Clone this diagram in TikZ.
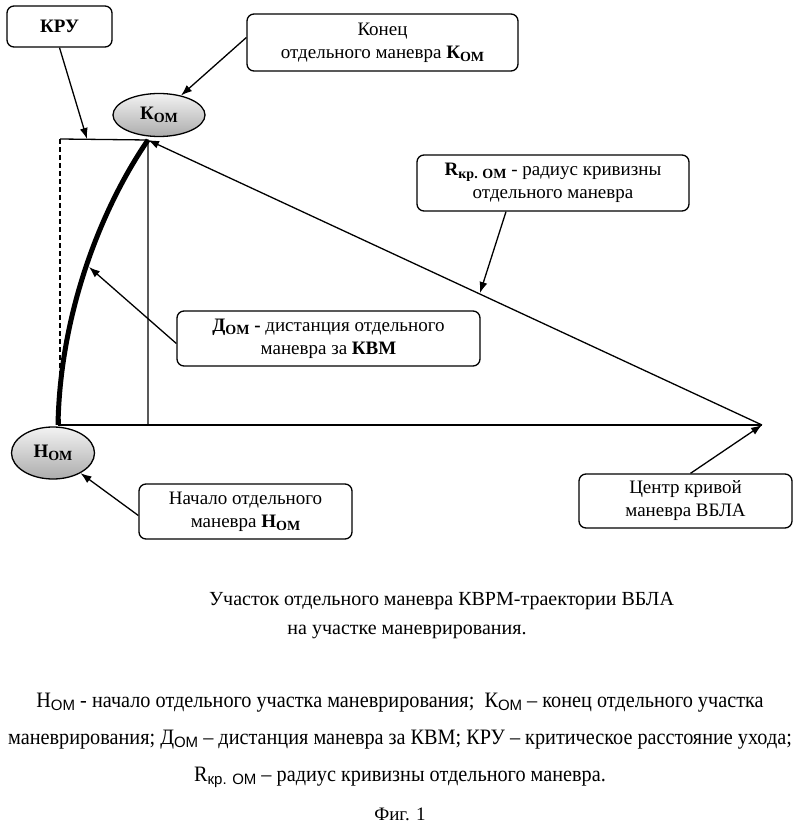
\documentclass[tikz,border=0pt]{standalone}
\usepackage{fontspec}
\setmainfont{Liberation Serif}
\setsansfont{Liberation Sans}
\newfontfamily\legendfont[FakeStretch=0.92]{Liberation Serif}
\usetikzlibrary{
    arrows.meta,
    shapes.geometric
}
\newcommand{\lo}[1]{\raisebox{-0.35ex}{\fontsize{14}{14}\selectfont#1}}
\newcommand{\losf}[1]{\raisebox{-0.3ex}{\fontsize{15}{15}\selectfont\sffamily#1}}
\tikzset{
    callout/.style={draw, line width=1.3, rounded corners=7, align=center,
        inner sep=0, font=\fontsize{19}{23}\selectfont},
    point/.style={draw, line width=1.3, ellipse, inner sep=0,
        top color=gray!10, bottom color=gray!65,
        font=\fontsize{19}{19}\selectfont\bfseries},
    pointer/.style={line width=1.3, -{Latex[length=11,width=8]}},
    guide/.style={line width=1.3},
    caption/.style={anchor=base, inner sep=0, font=\fontsize{20}{20}\selectfont},
    legend/.style={anchor=base, inner sep=0, font=\fontsize{22}{22}\legendfont}
}

\begin{document}
\begin{tikzpicture}[x=1pt, y=-1pt]
    \useasboundingbox (0,0) rectangle (800,826);
    \fill[white] (0,0) rectangle (800,826);

    % points of the manoeuvre
    \node[point, minimum width=92, minimum height=43] (kom) at (159,115) {К\lo{ОМ}};
    \node[point, minimum width=83, minimum height=52] (hom) at (53,453) {Н\lo{ОМ}};

    \coordinate (c0) at (58,425);
    \coordinate (c1) at (148,140);
    \coordinate (ctr) at (762,425);
    \coordinate (d0) at (60,139);
    \coordinate (d1) at (60,425);
    \coordinate (v0) at (148,425);

    % frame of the manoeuvre
    \draw[guide, dashed, dash pattern=on 5 off 3] (d0) -- (d1);
    \draw[guide] (d0) -- (c1) -- (v0);
    \draw[guide] (c0) -- (ctr);
    \draw[line width=5] (c0) .. controls (60,315) and (100,210) .. (c1);
    \draw[pointer] (ctr) -- (c1);

    % callouts
    \node[callout, minimum width=105, minimum height=41] (kru) at (59.5,26.5) {\bfseries КРУ};
    \node[callout, minimum width=271, minimum height=57] (konets) at (382.5,42.5)
        {Конец\\отдельного маневра \textbf{К\lo{ОМ}}};
    \node[callout, minimum width=272, minimum height=56] (rkr) at (553,183)
        {\textbf{R\lo{кр. ОМ}} - радиус кривизны\\отдельного маневра};
    \node[callout, minimum width=303, minimum height=55] (dom) at (328.5,338.5)
        {\textbf{Д\lo{ОМ} -} дистанция отдельного\\маневра за \textbf{КВМ}};
    \node[callout, minimum width=213, minimum height=55] (nach) at (245.5,511.5)
        {Начало отдельного\\маневра \textbf{Н\lo{ОМ}}};
    \node[callout, minimum width=213, minimum height=54] (cen) at (685.5,501)
        {Центр кривой\\маневра ВБЛА};

    \coordinate (kruhit) at (87,139);
    \coordinate (rhit) at (480,293);
    \coordinate (dhit) at (89,267);

    \draw[pointer] (kru.south) -- (kruhit);
    \draw[pointer] ([yshift=5]konets.west) -- (kom);
    \draw[pointer] ([xshift=-47]rkr.south) -- (rhit);
    \draw[pointer] ([yshift=-5]dom.west) -- (dhit);
    \draw[pointer] ([yshift=-4]nach.west) -- (hom);
    \draw[pointer] ([xshift=5]cen.north) -- (ctr);

    % caption and legend
    \node[caption] (cap1) at (441.5,605) {Участок отдельного маневра КВРМ-траектории ВБЛА};
    \node[caption] (cap2) at (407,634) {на участке маневрирования.};
    \node[legend] (leg1) at (400,707)
        {Н\losf{ОМ} - начало отдельного участка маневрирования;\ \ К\losf{ОМ} – конец отдельного участка};
    \node[legend] (leg2) at (400,744)
        {маневрирования; Д\losf{ОМ} – дистанция маневра за КВМ; КРУ – критическое расстояние ухода;};
    \node[legend] (leg3) at (400,781)
        {R\losf{кр. ОМ} – радиус кривизны отдельного маневра.};
    \node[caption, font=\fontsize{19}{19}\selectfont] (fig) at (400,820) {Фиг. 1};
\end{tikzpicture}
\end{document}
